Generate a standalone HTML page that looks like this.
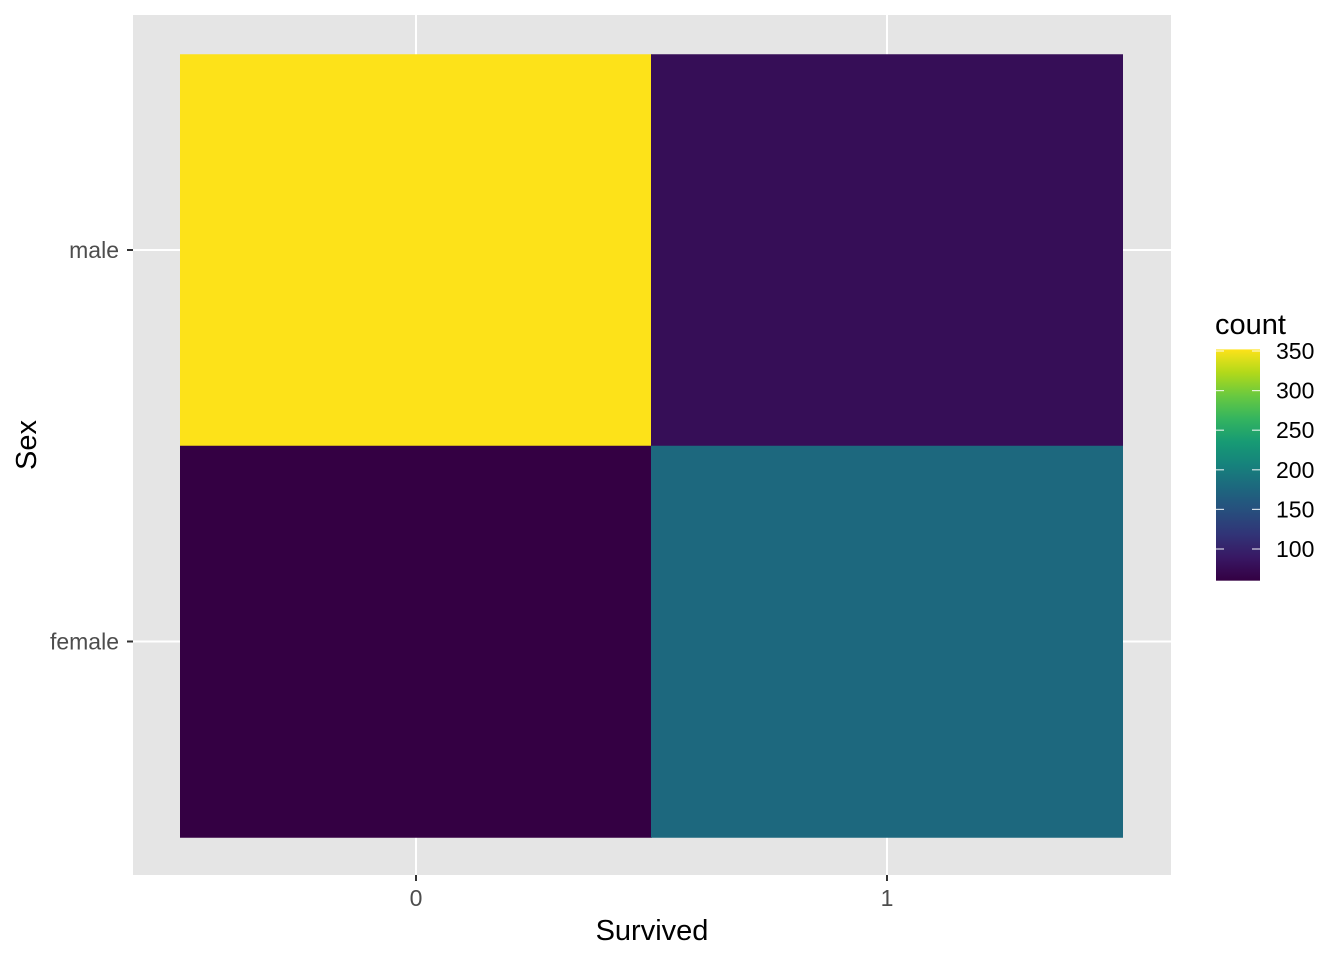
<!DOCTYPE html>
<html><head><meta charset="utf-8"><style>
body{margin:0;background:#fff;font-family:"Liberation Sans",Arial,sans-serif}
svg text{font-family:"Liberation Sans",Arial,sans-serif}
</style></head><body>
<svg id="c" width="1344" height="960" xmlns="http://www.w3.org/2000/svg">
<defs><linearGradient id="vg" x1="0" y1="1" x2="0" y2="0"></linearGradient></defs>
<rect x="133" y="15" width="1038" height="860" fill="#e5e5e5"/>
<g id="grid"></g><g id="tiles"></g><g id="axes"></g><g id="legend"></g>
<text x="652" y="940" font-size="29" text-anchor="middle" fill="#000">Survived</text>
<text transform="translate(36,445) rotate(-90)" font-size="29" text-anchor="middle" fill="#000">Sex</text>
<text x="1215" y="334" font-size="29" fill="#000">count</text>
</svg>
<script>
const xCats=["0","1"];
const yCats=["male","female"];
const counts=[[352,78],[60,178]]; // rows: yCats, cols: xCats
const legendTicks=[100,150,200,250,300,350];
const NS="http://www.w3.org/2000/svg";
const V=["#440154","#482475","#414487","#355f8d","#2a788e","#21918c","#22a884","#44bf70","#7ad151","#bddf26","#fde725"];
function hex(h){return [1,3,5].map(i=>parseInt(h.substr(i,2),16));}
function viridis(t){t=Math.max(0,Math.min(1,t));const p=t*10,i=Math.min(9,Math.floor(p)),f=p-i;const a=hex(V[i]),b=hex(V[i+1]);return "rgb("+a.map((v,k)=>{const c=v+(b[k]-v)*f;return Math.round(255*Math.pow(c/255,1.2));}).join(",")+")";}
const flat=counts.flat(),vmin=Math.min(...flat),vmax=Math.max(...flat);
const x=i=>416+i*471, y=j=>250+j*391.5, tw=472, th=391.5;
function mk(tag,at,parent){const e=document.createElementNS(NS,tag);for(const k in at)e.setAttribute(k,at[k]);document.getElementById(parent).appendChild(e);return e;}
xCats.forEach((c,i)=>{
 const g=mk("line",{x1:x(i),x2:x(i),y1:15,y2:875,stroke:"#fff","stroke-width":2},"grid");
 
 
 const t=mk("line",{x1:x(i),x2:x(i),y1:875,y2:881,stroke:"#333","stroke-width":2},"axes");
 
 
 const l=mk("text",{x:x(i),y:906,"font-size":23,"text-anchor":"middle",fill:"#4d4d4d"},"axes");l.textContent=c;
 
 
});
yCats.forEach((c,j)=>{
 const g=mk("line",{x1:133,x2:1171,y1:y(j),y2:y(j),stroke:"#fff","stroke-width":2},"grid");
 
 
 const t=mk("line",{x1:127,x2:133,y1:y(j),y2:y(j),stroke:"#333","stroke-width":2},"axes");
 
 
 const l=mk("text",{x:119,y:y(j)+8,"font-size":23,"text-anchor":"end",fill:"#4d4d4d"},"axes");l.textContent=c;
 
 
 xCats.forEach((cx,i)=>{
  const r=mk("rect",{x:x(i)-tw/2,y:y(j)-th/2,width:tw,height:th+0.5,fill:viridis((counts[j][i]-vmin)/(vmax-vmin))},"tiles");
  
  
 });
});
const grad=document.getElementById("vg");
for(let k=0;k<=20;k++){const s=document.createElementNS(NS,"stop");s.setAttribute("offset",k/20);s.setAttribute("stop-color",viridis(k/20));grad.appendChild(s);}
const ly=v=>549-(v-100)*0.792;
const bar=mk("rect",{x:1216,y:ly(vmax),width:44,height:ly(vmin)-ly(vmax),fill:"url(#vg)"},"legend");


legendTicks.forEach(v=>{
 [[1216,1224],[1252,1260]].forEach(p=>{
  const t=mk("line",{x1:p[0],x2:p[1],y1:ly(v),y2:ly(v),stroke:"#fff","stroke-width":1.2,opacity:0.8},"legend");
  
  
 });
 const l=mk("text",{x:1276,y:ly(v)+8,"font-size":23,fill:"#000"},"legend");l.textContent=v;
 
 
});
</script>
</body></html>
